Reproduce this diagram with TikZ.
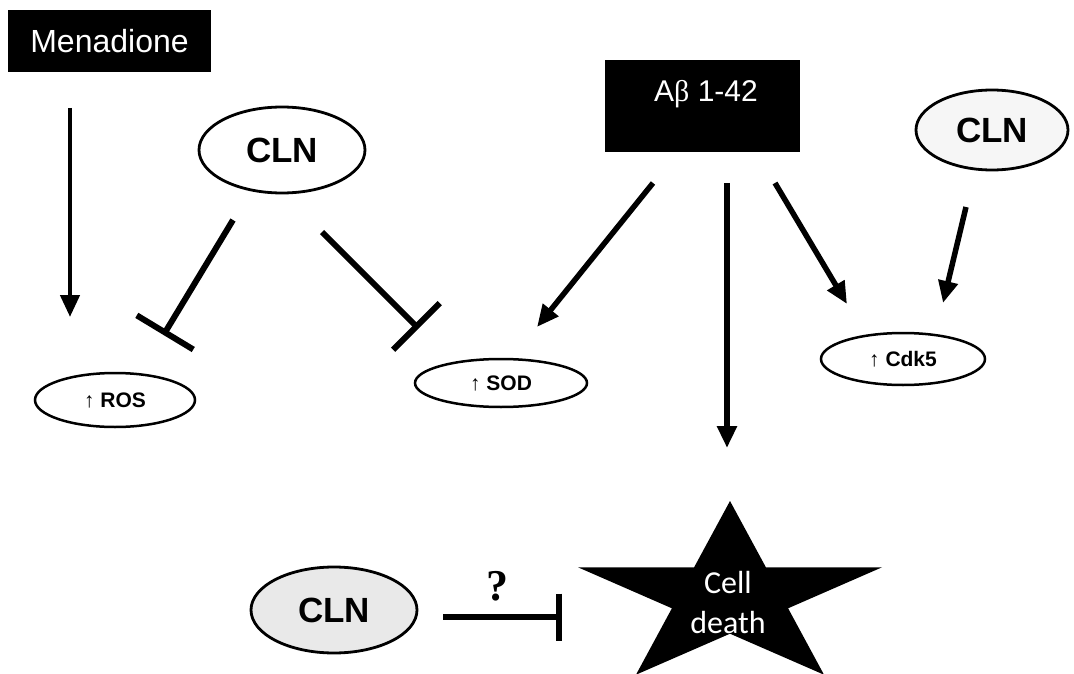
\documentclass[tikz,border=0pt]{standalone}
\usepackage{fontspec}
\setmainfont{Liberation Sans}
\newfontfamily\qfont{Liberation Serif}
\newfontfamily\greekfont{Liberation Serif}
\newfontfamily\starfont{Carlito}
\usetikzlibrary{arrows.meta,shapes.geometric}

\begin{document}
\begin{tikzpicture}[x=1pt,y=-1pt,
  blackbox/.style={fill=black, text=white, inner sep=0pt, font=\fontsize{32}{36}\selectfont},
  bigell/.style={ellipse, draw=black, line width=2.8pt, inner sep=0pt,
    minimum width=166pt, minimum height=86pt, font=\bfseries\fontsize{35}{38}\selectfont},
  smallell/.style={ellipse, draw=black, line width=2.5pt, inner sep=0pt,
    minimum width=160pt, minimum height=52pt, font=\bfseries\fontsize{21}{24}\selectfont},
  activate/.style={line width=5.5pt, -{Triangle[length=22pt,width=19pt]}},
  inhibit/.style={line width=6pt, -{Bar[width=#1]}},
  inhibit/.default=66pt]

\useasboundingbox (0,0) rectangle (1074,674);
\fill[white] (0,0) rectangle (1074,674);

% stimuli
\node[blackbox, minimum width=203pt, minimum height=62pt] (men) at (109.5,41) {Menadione};
\node[blackbox, minimum width=195pt, minimum height=92pt] (ab) at (702.5,106) {};
\node[text=white, inner sep=0pt, font=\fontsize{30}{34}\selectfont] (abtext) at (706,94)
  {A{\greekfont β} 1-42};

% curcumin-like compound
\node[bigell, fill=white] (clnA) at (282,150) {CLN};
\node[bigell, fill=gray!7, minimum width=152pt, minimum height=80pt] (clnB) at (992,130) {CLN};
\node[bigell, fill=gray!17] (clnC) at (334,610) {CLN};

% readouts
\node[smallell, minimum width=160pt, minimum height=54pt] (ros) at (115,400) {{\mdseries ↑} ROS};
\node[smallell, minimum width=172pt, minimum height=48pt] (sod) at (501,383) {{\mdseries ↑} SOD};
\node[smallell, minimum width=164pt, minimum height=52pt] (cdk) at (903,359) {{\mdseries ↑} Cdk5};

% cell death star
\fill[black] (730,501) -- (765.9,567.3) -- (882,567.3) -- (788.1,608.3) -- (824,674.7)
  -- (730,633.7) -- (636,674.7) -- (671.9,608.3) -- (578,567.3) -- (694.1,567.3) -- cycle;
\node[text=white, align=center, inner sep=0pt, font=\starfont\fontsize{32}{40}\selectfont]
  (death) at (728,603) {Cell\\death};

% connector end points
\coordinate (menOut) at (70,108);
\coordinate (rosIn) at (70,317);
\coordinate (clnAout1) at (233,220);
\coordinate (rosBar) at (163.5,335);
\coordinate (clnAout2) at (322,232);
\coordinate (sodBar) at (418.5,328.5);
\coordinate (abOut1) at (653,183);
\coordinate (sodIn) at (537,327);
\coordinate (abOut2) at (727,183);
\coordinate (deathIn) at (727,448);
\coordinate (abOut3) at (775,183);
\coordinate (cdkIn1) at (847,304);
\coordinate (clnBout) at (966,207);
\coordinate (cdkIn2) at (943,303);
\coordinate (clnCout) at (443,617);
\coordinate (deathBar) at (562,617);

\draw[activate, line width=4.5pt] (menOut) -- (rosIn);
\draw[inhibit] (clnAout1) -- (rosBar);
\draw[inhibit] (clnAout2) -- (sodBar);
\draw[activate] (abOut1) -- (sodIn);
\draw[activate] (abOut2) -- (deathIn);
\draw[activate] (abOut3) -- (cdkIn1);
\draw[activate] (clnBout) -- (cdkIn2);
\draw[inhibit=47pt] (clnCout) -- (deathBar);
\node[inner sep=0pt, font=\qfont\bfseries\fontsize{44}{46}\selectfont] (q) at (497,586) {?};

\end{tikzpicture}
\end{document}
